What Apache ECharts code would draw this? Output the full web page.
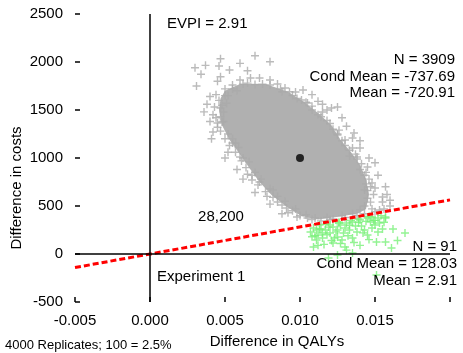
<!DOCTYPE html>
<html><head><meta charset="utf-8">
<script src="https://cdn.jsdelivr.net/npm/echarts@6/dist/echarts.min.js"></script>
<style>html,body{margin:0;padding:0;background:#fff}#c{width:463px;height:353px}</style>
</head><body><div id="c"></div>
<script>
// Axis ranges / ticks
const xMin = -0.005, xMax = 0.020, xStep = 0.005;
const yMin = -500, yMax = 2500, yStep = 500;
const xTicks = [-0.005, 0.000, 0.005, 0.010, 0.015, 0.020];
const yTicks = [-500, 0, 500, 1000, 1500, 2000, 2500];

// Dense core of the gray cloud (outline of the saturated region)
const coreX = [0.0050,0.0060,0.0077,0.0092,0.0102,0.0112,0.0121,0.0127,0.0134,0.0140,0.0144,0.0146,0.0144,0.0139,0.0127,0.0112,0.0101,0.0091,0.0081,0.0073,0.0066,0.0059,0.0053,0.0048,0.0046,0.0047];
const coreY = [1700,1770,1770,1690,1590,1470,1340,1190,1060,930,780,620,470,425,390,360,395,495,615,750,900,1060,1190,1340,1500,1620];

// Individual gray replicates (above the threshold line)
const grayX = [0.0070,0.0080,0.0047,0.0060,0.0046,0.0037,0.0030,0.0053,0.0065,0.0034,0.0031,0.0047,0.0045,0.0060,0.0067,0.0073,0.0080,0.0085,0.0090,0.0097,
0.0102,0.0101,0.0115,0.0121,0.0125,0.0118,0.0105,0.0125,0.0130,0.0135,0.0140,0.0135,0.0138,0.0145,0.0148,0.0155,0.0155,0.0150,0.0143,0.0153,
0.0042,0.0055,0.0060,0.0068,0.0073,0.0082,0.0085,0.0091,0.0098,0.0105,0.0043,0.0047,0.0048,0.0045,0.0042,0.0049,0.0057,
0.0050,0.0055,0.0065,0.0075,0.0088,0.0095,0.0108,0.0112,0.0120,0.0126,0.0128,0.0133,0.0137,0.0141,0.0144,0.0146,0.0147,0.0149,0.0147,0.0148,
0.0143,0.0138,0.0130,0.0122,0.0114,0.0108,0.0100,0.0095,0.0088,0.0082,0.0077,0.0072,0.0068,0.0064,0.0061,0.0057,0.0053,0.0050,0.0047,0.0045,
0.0044,0.0046,0.0044,0.0052,0.0058,0.0038,0.0040,0.0052,0.0065,0.0078,0.0092,0.0112,0.0128,0.0136,0.0146,0.0152,0.0158,0.0150,0.0120,0.0160,
0.0050,0.0055,0.0062,0.0070,0.0080,0.0087,0.0093,0.0098,0.0104,0.0108,0.0114,0.0118,0.0122,0.0125,0.0130,0.0133,0.0138,0.0140,0.0143,0.0144,
0.0145,0.0145,0.0143,0.0140,0.0135,0.0128,0.0118,0.0110,0.0104,0.0097,0.0090,0.0085,0.0080,0.0074,0.0070,0.0066,0.0062,0.0059,0.0055,0.0052,
0.0049,0.0047,0.0048,0.0051,0.0036,0.0040,0.0041,0.0050,0.0058,0.0062,0.0070,0.0080,0.0088,0.0108,0.0115,0.0131,0.0140,0.0150,0.0157,0.0160,0.0156];
const grayY = [2065,2003,2034,1986,1958,1965,1940,1917,1909,1872,1750,1847,1800,1812,1833,1833,1812,1771,1729,1688,
1708,1604,1479,1521,1531,1500,1573,1240,1188,1208,1104,1104,1010,906,740,542,594,688,667,458,
1271,1156,1010,771,750,667,542,479,385,375,1531,1521,1375,1365,1450,1479,1156,
1720,1760,1780,1770,1690,1650,1540,1450,1360,1290,1180,1080,1040,940,850,780,700,620,540,470,
420,400,380,365,345,360,400,450,510,590,650,720,820,900,970,1060,1130,1200,1280,1320,
1420,1600,1660,1650,1700,1560,1380,1060,830,600,430,1590,1420,1260,1000,820,620,440,360,500,
1650,1720,1770,1765,1760,1720,1690,1620,1580,1500,1430,1390,1300,1250,1130,1020,990,880,820,730,
660,580,500,460,420,400,380,375,410,470,550,600,680,780,850,960,1000,1110,1200,1250,
1380,1430,1550,1570,1480,1640,1200,1000,880,780,640,520,420,1660,1560,1330,1180,950,700,560,470];

// Green replicates (below the threshold line)
const greenX = [0.0109,0.0113,0.0117,0.0122,0.0127,0.0131,0.0135,0.0140,0.0145,0.0148,0.0152,0.0157,0.0153,0.0148,0.0143,0.0138,0.0133,0.0129,0.0125,0.0120,
0.0115,0.0111,0.0128,0.0135,0.0145,0.0152,0.0122,0.0109,0.0130,0.0151,0.0157,0.0170,0.0161,0.0119,0.0135,0.0112,0.0115,0.0123,0.0151,0.0157,
0.0107,0.0117,0.0130,0.0141,0.0137,0.0125,0.0147,0.0150,0.0111,0.0120,0.0114,0.0126,0.0133,0.0139,0.0144,0.0149,0.0118,0.0124,0.0132,0.0142,
0.0110,0.0121,0.0136,0.0146,0.0155,0.0116,0.0127,0.0140,0.0113,0.0119,0.0126,0.0134,0.0139,0.0146,0.0150,0.0154,0.0156,0.0108,0.0112,0.0131,
0.0162,0.0165,0.0125];
const greenY = [271,302,250,281,302,323,333,354,375,385,375,385,323,271,250,229,250,219,177,219,
167,146,146,167,198,229,115,73,73,125,125,219,63,-42,10,198,219,167,-219,375,
229,310,271,292,292,250,333,302,250,302,260,330,300,330,340,350,200,230,190,220,
190,140,120,150,260,100,110,90,260,280,320,350,365,390,350,400,330,180,90,40,
260,140,-10];

// Mean of the replicates
const meanX = [0.010], meanY = [1000];

// Threshold (willingness to pay = 28,200) line end points
const wtpX = [-0.005, 0.020], wtpY = [-141, 564];

// Quadrant axes through the origin
const vLineX = [0, 0], vLineY = [-500, 2500];
const hLineX = [-0.005, 0.020], hLineY = [0, 0];

const FONT = '"Liberation Sans", Arial, sans-serif';
const plus = 'path://M3.3,0H4.7V3.3H8V4.7H4.7V8H3.3V4.7H0V3.3H3.3Z';
const zip = (a, b) => a.map((v, i) => [v, b[i]]);

const chart = echarts.init(document.getElementById('c'), null, {renderer: 'canvas'});
const txt = (text, x, y, align, size) => ({
  type: 'text', z: 100,
  style: {text, x, y, align, verticalAlign: 'middle', font: (size || 15) + 'px ' + FONT, fill: '#000'}
});
const tickStyle = {stroke: '#000', lineWidth: 1.5};

chart.setOption({
  animation: false,
  backgroundColor: '#fff',
  grid: {left: 75, right: 13, top: 14, bottom: 51},
  xAxis: {
    type: 'value', min: xMin, max: xMax, interval: xStep,
    axisLine: {show: false}, axisTick: {show: false}, splitLine: {show: false},
    axisLabel: {margin: 11, color: '#000', fontSize: 15, fontFamily: FONT,
      formatter: v => Math.abs(v - 0.02) < 1e-9 ? '' : v.toFixed(3)}
  },
  yAxis: {
    type: 'value', min: yMin, max: yMax, interval: yStep,
    axisLine: {show: false}, axisTick: {show: false}, splitLine: {show: false},
    axisLabel: {margin: 12, color: '#000', fontSize: 15, fontFamily: FONT, padding: [4, 0, 0, 0],
      formatter: v => String(v)}
  },
  series: [
    {type: 'custom', z: 2, data: [[coreX[0], coreY[0]]], silent: true,
      renderItem: (params, api) => ({
        type: 'polygon',
        shape: {points: coreX.map((x, i) => api.coord([x, coreY[i]]))},
        style: {fill: '#b0b0b0'}
      })},
    {type: 'scatter', z: 3, symbol: plus, symbolSize: 8, data: zip(grayX, grayY),
      itemStyle: {color: '#aaaaaa'}},
    {type: 'scatter', z: 4, symbol: plus, symbolSize: 8, data: zip(greenX, greenY),
      itemStyle: {color: '#78f078'}},
    {type: 'line', z: 5, data: zip(wtpX, wtpY), symbol: 'none',
      lineStyle: {color: '#ff0000', width: 3, type: [6, 3]}},
    {type: 'line', z: 6, data: zip(vLineX, vLineY), symbol: 'none',
      lineStyle: {color: '#000', width: 1.5}},
    {type: 'line', z: 6, data: zip(hLineX, hLineY), symbol: 'none',
      lineStyle: {color: '#000', width: 1.5}},
    {type: 'scatter', z: 7, symbol: 'circle', symbolSize: 8, data: zip(meanX, meanY),
      itemStyle: {color: '#000'}},
    // inward tick marks on the bottom edge
    {type: 'custom', z: 8, silent: true, clip: false, data: xTicks.map(v => [v, yMin]),
      renderItem: (params, api) => {
        const p = api.coord([api.value(0), yMin]);
        return {type: 'line', shape: {x1: p[0], y1: p[1], x2: p[0], y2: p[1] - 5}, style: tickStyle};
      }},
    // inward tick marks on the left edge
    {type: 'custom', z: 8, silent: true, clip: false, data: yTicks.map(v => [xMin, v]),
      renderItem: (params, api) => {
        const p = api.coord([xMin, api.value(1)]);
        return {type: 'line', shape: {x1: p[0], y1: p[1], x2: p[0] + 5, y2: p[1]}, style: tickStyle};
      }}
  ],
  graphic: [
    txt('EVPI = 2.91', 167, 24, 'left'),
    txt('N = 3909', 455, 60, 'right'),
    txt('Cond Mean = -737.69', 455, 77, 'right'),
    txt('Mean = -720.91', 455, 93, 'right'),
    txt('28,200', 221, 217, 'center'),
    txt('N = 91', 457, 247, 'right'),
    txt('Cond Mean = 128.03', 457, 264, 'right'),
    txt('Mean = 2.91', 457, 281, 'right'),
    txt('Experiment 1', 157, 277, 'left'),
    txt('Difference in QALYs', 277, 342, 'center'),
    txt('4000 Replicates; 100 = 2.5%', 5, 345, 'left', 13),
    {type: 'text', z: 100, x: 17, y: 188, rotation: Math.PI / 2,
      style: {text: 'Difference in costs', x: 0, y: 0, align: 'center', verticalAlign: 'middle',
        font: '15px ' + FONT, fill: '#000'}}
  ]
});
</script></body></html>
